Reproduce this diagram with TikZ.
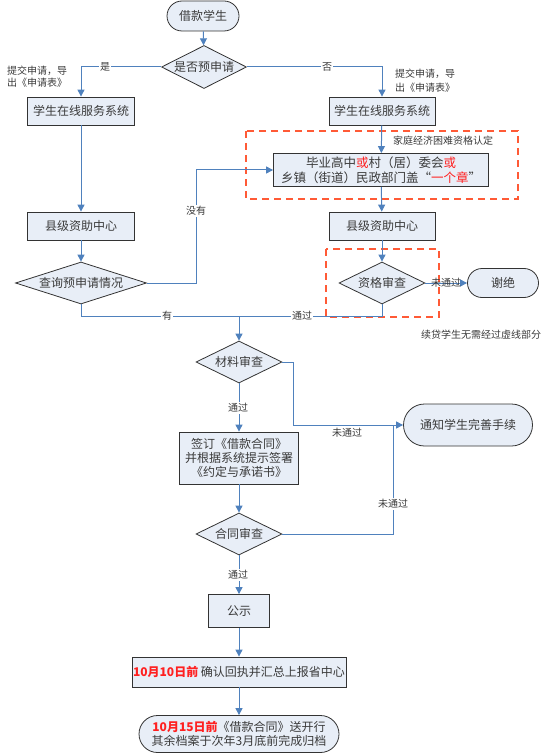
\documentclass[tikz,border=0pt]{standalone}
\usepackage{fontspec}
\setmainfont{Noto Sans CJK SC}
\usetikzlibrary{shapes.geometric,shapes.misc,arrows.meta,calc}
\definecolor{boxfill}{HTML}{E8EEF7}
\definecolor{lineblue}{HTML}{4F81BD}
\definecolor{txt}{HTML}{3A3A3A}
\definecolor{dashred}{HTML}{FF5A36}
\definecolor{redtxt}{HTML}{FF2020}
\tikzset{
  base/.style={draw=black!80, fill=boxfill, line width=0.8pt, text=txt, font=\fontsize{12}{14}\selectfont, inner sep=0pt, align=center},
  box/.style={base, rectangle},
  dia/.style={base, diamond, shape aspect=2},
  term/.style={base, rounded rectangle},
  conn/.style={draw=lineblue, line width=1pt},
  arr/.style={conn, -{Triangle[width=7pt,length=7pt]}},
  lab/.style={fill=white, inner sep=1pt, text=txt, font=\fontsize{10}{12}\selectfont},
  note/.style={inner sep=0pt, text=txt, font=\fontsize{10}{12}\selectfont, align=left},
  dashbox/.style={draw=dashred, line width=1.2pt, dash pattern=on 7pt off 5pt},
}
\begin{document}
\begin{tikzpicture}[x=1pt,y=-1pt]
\useasboundingbox (0,0) rectangle (553,754);
% dashed regions
\draw[dashbox] (246,131) rectangle (518,199);
\draw[dashbox] (326,249) rectangle (439,317);
% nodes
\node[term, minimum width=72pt, minimum height=30pt] (start) at (203,16) {借款学生};
\node[dia, minimum width=85pt, minimum height=43pt] (q1) at (204,67) {是否预申请};
\node[box, minimum width=107pt, minimum height=28pt] (sysL) at (81,111) {学生在线服务系统};
\node[box, minimum width=106pt, minimum height=28pt] (sysR) at (382,111) {学生在线服务系统};
\node[box, minimum width=215pt, minimum height=33pt, font=\fontsize{12.5}{15}\selectfont] (fam) at (381,170) {毕业高中{\color{redtxt}或}村（居）委会{\color{redtxt}或}\\乡镇（街道）民政部门盖“{\color{redtxt}一个章}”};
\node[box, minimum width=106pt, minimum height=28pt] (cntR) at (382,226) {县级资助中心};
\node[dia, minimum width=86pt, minimum height=42pt] (elig) at (382,283) {资格审查};
\node[term, minimum width=71pt, minimum height=29pt] (reject) at (503,283) {谢绝};
\node[box, minimum width=107pt, minimum height=28pt] (cntL) at (81,226) {县级资助中心};
\node[dia, shape aspect=3.1, minimum width=131pt, minimum height=42pt] (query) at (81,283) {查询预申请情况};
\node[dia, minimum width=86pt, minimum height=42pt] (mat) at (239,362) {材料审查};
\node[term, minimum width=129pt, minimum height=42pt] (notify) at (468,425) {通知学生完善手续};
\node[box, minimum width=119pt, minimum height=52pt] (sign) at (239,458) {签订《借款合同》\\并根据系统提示签署\\《约定与承诺书》};
\node[dia, minimum width=86pt, minimum height=42pt] (contract) at (239,534) {合同审查};
\node[box, minimum width=61pt, minimum height=33pt] (pub) at (239,611) {公示};
\node[box, minimum width=214pt, minimum height=30pt] (confirm) at (239,672) {{\color{redtxt}\bfseries 10月10日前} 确认回执并汇总上报省中心};
\node[term, minimum width=200pt, minimum height=37pt] (final) at (239,734) {{\color{redtxt}\bfseries 10月15日前}《借款合同》送开行\\其余档案于次年3月底前完成归档};
% helper coordinates
\coordinate (jn) at (239,316);
\coordinate (qturn) at (196,170);
\coordinate (mturn) at (293,425);
\coordinate (cturn) at (393,425);
% connectors
\draw[arr] (start) -- (q1);
\draw[arr] (q1.west) -| (sysL.north);
\draw[arr] (q1.east) -| (sysR.north);
\draw[arr] (sysR) -- (fam);
\draw[arr] (fam) -- (cntR);
\draw[arr] (cntR) -- (elig);
\draw[arr] (elig.east) -- (reject.west);
\draw[conn] (elig.south) |- (jn);
\draw[arr] (sysL) -- (cntL);
\draw[arr] (cntL) -- (query);
\draw[arr] (query.east) -| (qturn) -- (fam.west);
\draw[conn] (query.south) |- (jn);
\draw[arr] (jn) -- (mat.north);
\draw[arr] (mat.east) -| (mturn) -- (notify.west);
\draw[arr] (mat) -- (sign);
\draw[arr] (sign) -- (contract);
\draw[conn] (contract.east) -| (cturn);
\draw[arr] (contract) -- (pub);
\draw[arr] (pub) -- (confirm);
\draw[arr] (confirm) -- (final);
% connector labels
\node[lab] (lyes) at (105,67) {是};
\node[lab] (lno) at (327,67) {否};
\node[lab] (lnone) at (196,211) {没有};
\node[lab] (lhas) at (167,316) {有};
\node[lab] (lpass1) at (302,316) {通过};
\node[lab, fill=none] (lfail1) at (446,283) {未通过};
\node[lab] (lpass2) at (238,408) {通过};
\node[lab] (lfail2) at (347,433) {未通过};
\node[lab] (lfail3) at (393,504) {未通过};
\node[lab] (lpass3) at (238,575) {通过};
% notes
\node[note, anchor=west] (n1) at (7,77) {提交申请，导\\出《申请表》};
\node[note, anchor=west] (n2) at (395,81) {提交申请，导\\[2pt]出《申请表》};
\node[note] (n3) at (443,141) {家庭经济困难资格认定};
\node[note] (n4) at (481,335) {续贷学生无需经过虚线部分};
\end{tikzpicture}
\end{document}
